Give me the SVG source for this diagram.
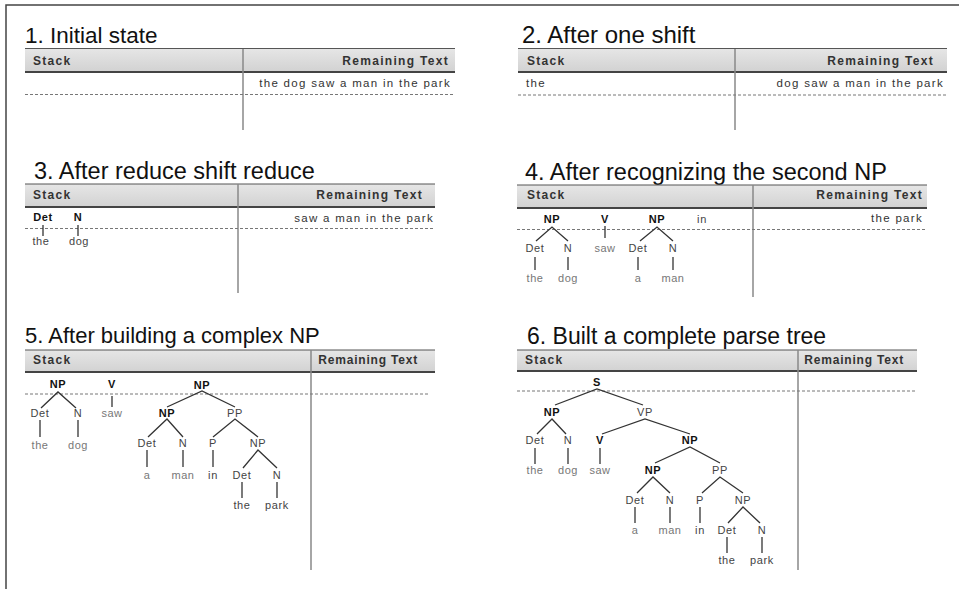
<svg xmlns="http://www.w3.org/2000/svg" width="959" height="589" viewBox="0 0 959 589">
<defs>
<linearGradient id="hdr" x1="0" y1="0" x2="0" y2="1">
<stop offset="0" stop-color="#e6e6e6"/>
<stop offset="1" stop-color="#d2d2d2"/>
</linearGradient>
</defs>
<style>
text{font-family:"Liberation Sans",Arial,Helvetica,sans-serif}
.title{font-size:22px;fill:#111}
.hd{font-size:12px;font-weight:bold;fill:#333;letter-spacing:1.3px}
.hn{letter-spacing:0.8px}
.rt{font-size:11.5px;fill:#333;letter-spacing:1.3px}
.b{font-size:11px;font-weight:bold;fill:#111;text-anchor:middle;letter-spacing:0.6px}
.n{font-size:11px;fill:#444;text-anchor:middle;letter-spacing:0.6px}
.l{font-size:11px;fill:#777;text-anchor:middle;letter-spacing:0.5px}
.end{text-anchor:end}
.band{fill:url(#hdr)}
.top{stroke:#555;stroke-width:1}
.bot{stroke:#444;stroke-width:2}
.div{stroke:#888;stroke-width:1.5}
.dash{stroke:#777;stroke-width:1;stroke-dasharray:3 2}
.edges line,.edges path{stroke:#333;stroke-width:1.3;fill:none}
</style>
<rect width="959" height="589" fill="#fff"/>
<path d="M6,589 V5 H959" fill="none" stroke="#444" stroke-width="1.5"/>

<!-- Panel 1 -->
<g id="panel1">
<text class="title" x="25" y="43" style="font-size:22.5px">1. Initial state</text>
<rect class="band" x="25" y="48.5" width="430" height="23"/>
<line class="top" x1="25" y1="48.5" x2="455" y2="48.5"/>
<line class="bot" x1="25" y1="72" x2="455" y2="72"/>
<line class="div" x1="243" y1="49" x2="243" y2="130"/>
<line class="dash" x1="25" y1="94.5" x2="455" y2="94.5"/>
<text class="hd" x="33" y="65">Stack</text>
<text class="hd end" x="449" y="65">Remaining Text</text>
<text class="rt end" x="451" y="87">the dog saw a man in the park</text>
</g>

<!-- Panel 2 -->
<g id="panel2">
<text class="title" x="522" y="43" style="font-size:24px">2. After one shift</text>
<rect class="band" x="518" y="48.5" width="429" height="23"/>
<line class="top" x1="518" y1="48.5" x2="947" y2="48.5"/>
<line class="bot" x1="518" y1="72" x2="947" y2="72"/>
<line class="div" x1="735" y1="49" x2="735" y2="130"/>
<line class="dash" x1="518" y1="95" x2="947" y2="95"/>
<text class="hd" x="527" y="65">Stack</text>
<text class="hd end" x="934" y="65">Remaining Text</text>
<text class="rt" x="526" y="87">the</text>
<text class="rt end" x="944" y="87">dog saw a man in the park</text>
</g>

<!-- Panel 3 -->
<g id="panel3">
<text class="title" x="34" y="179" style="font-size:23.5px">3. After reduce shift reduce</text>
<rect class="band" x="25" y="184" width="410" height="23"/>
<line class="top" x1="25" y1="184" x2="435" y2="184"/>
<line class="bot" x1="25" y1="207" x2="435" y2="207"/>
<line class="div" x1="238" y1="184" x2="238" y2="293"/>
<line class="dash" x1="25" y1="228.5" x2="435" y2="228.5"/>
<text class="hd" x="33" y="199">Stack</text>
<text class="hd end" x="423" y="199">Remaining Text</text>
<text class="rt end" x="434" y="222">saw a man in the park</text>
<g class="edges" id="edges3">
<line x1="43" y1="225" x2="43" y2="236"/>
<line x1="78" y1="225" x2="78" y2="236"/>
</g>
<g id="nodes3">
<text id="p3-det" class="b" x="43" y="221">Det</text>
<text id="p3-n" class="b" x="78" y="221">N</text>
<text id="p3-the" class="n" x="41" y="245">the</text>
<text id="p3-dog" class="n" x="79" y="245">dog</text>
</g>
</g>

<!-- Panel 4 -->
<g id="panel4">
<text class="title" x="525" y="180" style="font-size:23.5px">4. After recognizing the second NP</text>
<rect class="band" x="517" y="185" width="410" height="23"/>
<line class="top" x1="517" y1="185" x2="927" y2="185"/>
<line class="bot" x1="517" y1="208" x2="927" y2="208"/>
<line class="div" x1="753" y1="185" x2="753" y2="297"/>
<line class="dash" x1="517" y1="229.5" x2="927" y2="229.5"/>
<text class="hd" x="527" y="199">Stack</text>
<text class="hd end" x="923" y="199">Remaining Text</text>
<text class="rt end" x="923" y="222">the park</text>
<g class="edges" id="edges4">
<path d="M536,241 L552,227 L568,241"/>
<path d="M640,241 L657,227 L673,241"/>
<line x1="605" y1="226" x2="605" y2="238"/>
<line x1="535" y1="257" x2="535" y2="270"/>
<line x1="568" y1="257" x2="568" y2="270"/>
<line x1="638" y1="257" x2="638" y2="270"/>
<line x1="673" y1="257" x2="673" y2="270"/>
</g>
<g id="nodes4">
<text id="p4-np1" class="b" x="552" y="223">NP</text>
<text id="p4-v" class="b" x="605" y="223">V</text>
<text id="p4-np2" class="b" x="657" y="223">NP</text>
<text id="p4-in" class="n" x="702" y="223">in</text>
<text id="p4-det1" class="n" x="535" y="252">Det</text>
<text id="p4-n1" class="n" x="568" y="252">N</text>
<text id="p4-saw" class="l" x="605" y="252">saw</text>
<text id="p4-det2" class="n" x="638" y="252">Det</text>
<text id="p4-n2" class="n" x="673" y="252">N</text>
<text id="p4-the" class="l" x="535" y="282">the</text>
<text id="p4-dog" class="l" x="568" y="282">dog</text>
<text id="p4-a" class="l" x="638" y="282">a</text>
<text id="p4-man" class="l" x="673" y="282">man</text>
</g>
</g>

<!-- Panel 5 -->
<g id="panel5">
<text class="title" x="25" y="343">5. After building a complex NP</text>
<rect class="band" x="25" y="350" width="410" height="22"/>
<line class="top" x1="25" y1="350" x2="435" y2="350"/>
<line class="bot" x1="25" y1="372" x2="435" y2="372"/>
<line class="div" x1="311" y1="350" x2="311" y2="570"/>
<line class="dash" x1="25" y1="394" x2="430" y2="394"/>
<text class="hd" x="33" y="364">Stack</text>
<text class="hd hn end" x="418" y="364">Remaining Text</text>
<g class="edges" id="edges5">
<path d="M41,408 L58,392 L76,408"/>
<line x1="112" y1="396" x2="112" y2="407"/>
<line x1="40" y1="420" x2="40" y2="437"/>
<line x1="78" y1="420" x2="78" y2="437"/>
<path d="M167,407 L202,391 L235,407"/>
<path d="M148,437 L167,419 L183,437"/>
<path d="M213,437 L235,419 L258,437"/>
<line x1="147" y1="450" x2="147" y2="467"/>
<line x1="183" y1="450" x2="183" y2="467"/>
<line x1="213" y1="450" x2="213" y2="467"/>
<path d="M243,468 L258,450 L277,468"/>
<line x1="242" y1="482" x2="242" y2="498"/>
<line x1="277" y1="482" x2="277" y2="498"/>
</g>
<g id="nodes5">
<text id="p5-np1" class="b" x="58" y="388">NP</text>
<text id="p5-v" class="b" x="112" y="388">V</text>
<text id="p5-np2" class="b" x="202" y="389">NP</text>
<text id="p5-det1" class="n" x="40" y="417">Det</text>
<text id="p5-n1" class="n" x="78" y="417">N</text>
<text id="p5-saw" class="l" x="112" y="417">saw</text>
<text id="p5-the1" class="l" x="40" y="449">the</text>
<text id="p5-dog" class="l" x="78" y="449">dog</text>
<text id="p5-np3" class="b" x="167" y="417">NP</text>
<text id="p5-pp" class="n" x="235" y="417">PP</text>
<text id="p5-det2" class="n" x="147" y="447">Det</text>
<text id="p5-n2" class="n" x="183" y="447">N</text>
<text id="p5-p" class="n" x="213" y="447">P</text>
<text id="p5-np4" class="n" x="258" y="447">NP</text>
<text id="p5-a" class="l" x="147" y="479">a</text>
<text id="p5-man" class="l" x="183" y="479">man</text>
<text id="p5-in" class="n" x="213" y="479">in</text>
<text id="p5-det3" class="n" x="242" y="479">Det</text>
<text id="p5-n3" class="n" x="277" y="479">N</text>
<text id="p5-the2" class="n" x="242" y="509">the</text>
<text id="p5-park" class="n" x="277" y="509">park</text>
</g>
</g>

<!-- Panel 6 -->
<g id="panel6">
<text class="title" x="527" y="344" style="font-size:23px">6. Built a complete parse tree</text>
<rect class="band" x="517" y="350" width="400" height="21"/>
<line class="top" x1="517" y1="350" x2="917" y2="350"/>
<line class="bot" x1="517" y1="371" x2="917" y2="371"/>
<line class="div" x1="798" y1="350" x2="798" y2="570"/>
<line class="dash" x1="517" y1="391" x2="915" y2="391"/>
<text class="hd" x="525" y="364">Stack</text>
<text class="hd hn end" x="904" y="364">Remaining Text</text>
<g class="edges" id="edges6">
<path d="M555,405 L597,389 L643,405"/>
<path d="M537,434 L552,419 L566,434"/>
<path d="M602,434 L645,419 L690,434"/>
<line x1="535" y1="448" x2="535" y2="464"/>
<line x1="568" y1="448" x2="568" y2="464"/>
<line x1="600" y1="448" x2="600" y2="464"/>
<path d="M655,463 L690,447 L720,463"/>
<path d="M637,493 L653,477 L670,493"/>
<path d="M702,493 L720,477 L743,493"/>
<line x1="635" y1="507" x2="635" y2="523"/>
<line x1="670" y1="507" x2="670" y2="523"/>
<line x1="700" y1="507" x2="700" y2="523"/>
<path d="M728,523 L743,507 L760,523"/>
<line x1="727" y1="537" x2="727" y2="553"/>
<line x1="762" y1="537" x2="762" y2="553"/>
</g>
<g id="nodes6">
<text id="p6-s" class="b" x="597" y="386">S</text>
<text id="p6-np1" class="b" x="552" y="416">NP</text>
<text id="p6-vp" class="n" x="645" y="416">VP</text>
<text id="p6-det1" class="n" x="535" y="444">Det</text>
<text id="p6-n1" class="n" x="568" y="444">N</text>
<text id="p6-v" class="b" x="600" y="444">V</text>
<text id="p6-np2" class="b" x="690" y="444">NP</text>
<text id="p6-the1" class="l" x="535" y="474">the</text>
<text id="p6-dog" class="l" x="568" y="474">dog</text>
<text id="p6-saw" class="l" x="600" y="474">saw</text>
<text id="p6-np3" class="b" x="653" y="474">NP</text>
<text id="p6-pp" class="n" x="720" y="474">PP</text>
<text id="p6-det2" class="n" x="635" y="504">Det</text>
<text id="p6-n2" class="n" x="670" y="504">N</text>
<text id="p6-p" class="n" x="700" y="504">P</text>
<text id="p6-np4" class="n" x="743" y="504">NP</text>
<text id="p6-a" class="l" x="635" y="534">a</text>
<text id="p6-man" class="l" x="670" y="534">man</text>
<text id="p6-in" class="n" x="700" y="534">in</text>
<text id="p6-det3" class="n" x="727" y="534">Det</text>
<text id="p6-n3" class="n" x="762" y="534">N</text>
<text id="p6-the2" class="n" x="727" y="564">the</text>
<text id="p6-park" class="n" x="762" y="564">park</text>
</g>
</g>
</svg>
